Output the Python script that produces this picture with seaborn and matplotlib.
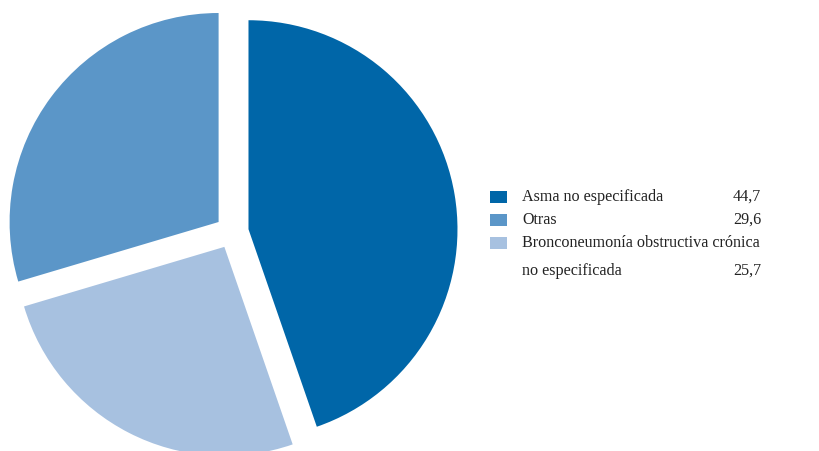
import matplotlib
matplotlib.use("Agg")
import matplotlib.pyplot as plt
from matplotlib.patches import Rectangle
import seaborn as sns

# Data
legend_labels = ["Asma no especificada", "Otras",
                 "Bronconeumonía obstructiva crónica\nno especificada"]
legend_values = [44.7, 29.6, 25.7]
legend_colors = ["#0066A8", "#5B96C8", "#A7C1E0"]

# pie drawing order (clockwise from top)
pie_order = [0, 2, 1]

sns.set_theme(style="white")
plt.rcParams['font.family'] = ['Liberation Serif', 'DejaVu Serif']

W, H = 819, 451
fig = plt.figure(figsize=(W / 100, H / 100), dpi=100)
ax = fig.add_axes([0, 0, 1, 1])
R = 209.0
cx, cy = 232.0, 232.0  # pixel center (from top)
vals = [legend_values[i] for i in pie_order]
cols = [legend_colors[i] for i in pie_order]
ax.pie(vals, colors=cols, startangle=90, counterclock=False,
       explode=[0.08] * 3, radius=1, center=(0, 0),
       wedgeprops=dict(linewidth=0))
ax.set_xlim(-cx / R, (W - cx) / R)
ax.set_ylim(-(H - cy) / R, cy / R)
ax.set_aspect("equal")
ax.axis("off")

fs = 11.6
rows_y = [197, 220, 243]
for i, (lab, val, col) in enumerate(zip(legend_labels, legend_values, legend_colors)):
    y = rows_y[i]
    fig.patches.append(Rectangle((490 / W, 1 - (y + 6) / H), 17 / W, 12 / H,
                                 transform=fig.transFigure, facecolor=col,
                                 edgecolor="none"))
    lines = lab.split("\n")
    for j, line in enumerate(lines):
        fig.text(522 / W, 1 - (y + 28 * j) / H, line, fontsize=fs,
                 ha="left", va="center", color="#222222")
    vy = y + 28 * (len(lines) - 1)
    fig.text(761 / W, 1 - vy / H, f"{val:.1f}".replace(".", ","), fontsize=fs,
             ha="right", va="center", color="#222222")

fig.savefig("out.png", dpi=100, facecolor="white")
